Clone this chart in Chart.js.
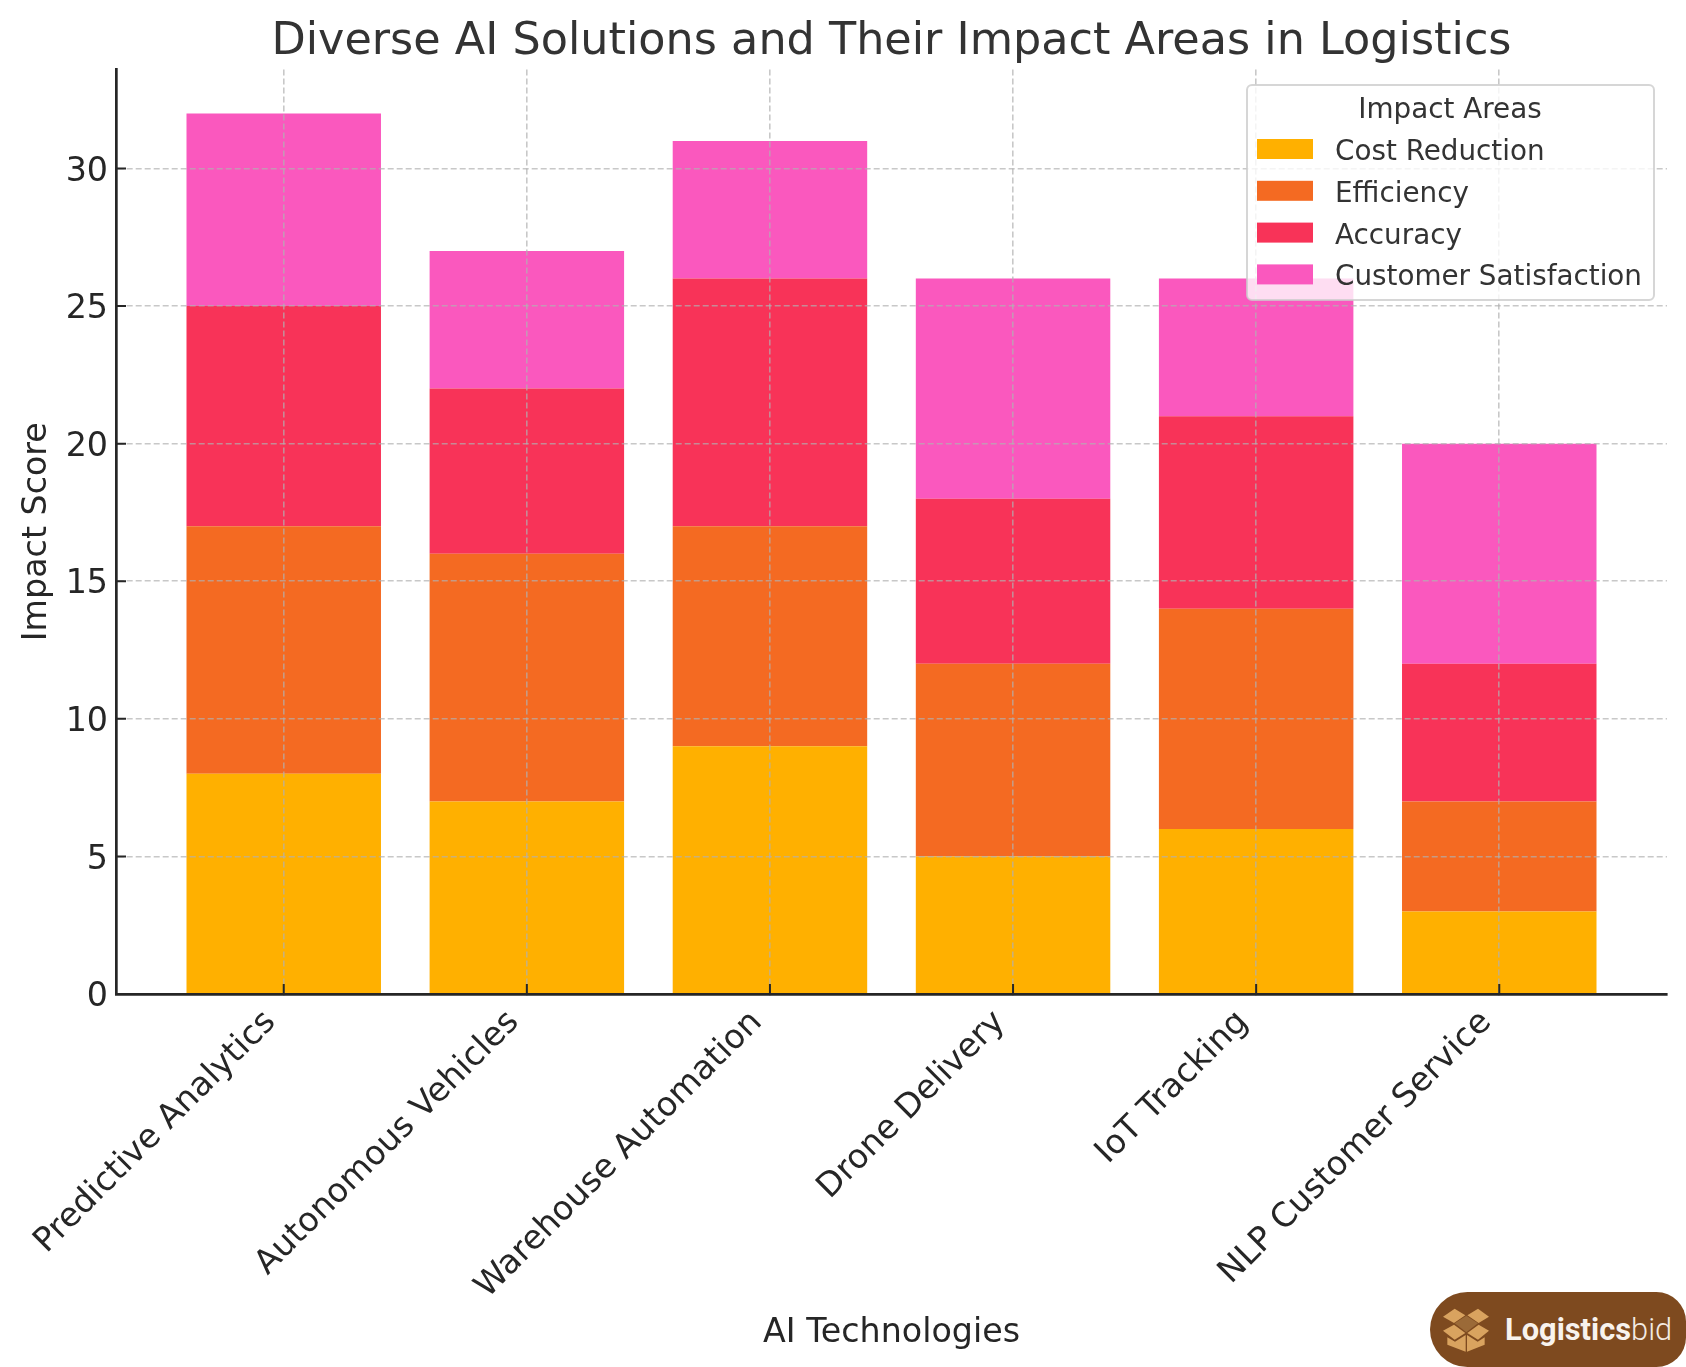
<!DOCTYPE html>
<html>
<head>
<meta charset="utf-8">
<script src="https://cdn.jsdelivr.net/npm/chart.js@4"></script>
<style>
  html, body { margin: 0; padding: 0; background: #fff; }
  #wrap { position: relative; width: 1686px; height: 1367px; overflow: hidden; }
  canvas { display: block; }
  #badge {
    position: absolute; left: 1430px; top: 1292px; width: 256px; height: 75px;
    background: #7e4a1f; border-radius: 38px 30px 30px 38px;
    display: flex; align-items: center; color: #fff;
    font-family: Roboto, sans-serif; font-size: 30.8px;
  }
  #badge svg { margin-left: 13px; margin-right: 16px; }
  #badge b { font-weight: 700; color: #f8f3ee; }
  #badge span { font-weight: 300; color: #f3eae2; }
</style>
</head>
<body>
<div id="wrap">
  <canvas id="c" width="1686" height="1367"></canvas>
  <div id="badge">
    <svg width="46" height="44" viewBox="130 113 138 130">
      <path d="M200 135 L235 158 L200 185 L165 158 Z" fill="#9b6a38"/>
      <path d="M130 138 L165 114 L197 134 L163 157 Z M268 138 L235 114 L203 134 L237 157 Z" fill="#d9a35f"/>
      <path d="M130 180 L163 162 L197 187 L165 207 Z M268 180 L237 162 L203 187 L235 207 Z" fill="#d9a35f"/>
      <path d="M143 200 L166 213 L198 193 L198 243 L143 222 Z M255 200 L234 213 L202 193 L202 243 L255 222 Z" fill="#d9a35f"/>
    </svg>
    <b>Logistics</b><span>bid</span>
  </div>
</div>
<script>
const technologies = ["Predictive Analytics", "Autonomous Vehicles", "Warehouse Automation", "Drone Delivery", "IoT Tracking", "NLP Customer Service"];
const costReduction = [8, 7, 9, 5, 6, 3];
const efficiency = [9, 9, 8, 7, 8, 4];
const accuracy = [8, 6, 9, 6, 7, 5];
const customerSatisfaction = [7, 5, 5, 8, 5, 8];
const yTicks = [0, 5, 10, 15, 20, 25, 30];
const seriesNames = ["Cost Reduction", "Efficiency", "Accuracy", "Customer Satisfaction"];
const seriesColors = ["#ffb000", "#f46a22", "#f83358", "#fa58be"];

const FONT = "'DejaVu Sans'";
const INK = "#262626";
const GRID = "rgba(176,176,176,0.7)";

const seriesValues = [costReduction, efficiency, accuracy, customerSatisfaction];
const datasets = seriesNames.map((name, s) => ({
  label: name,
  data: seriesValues[s].map((v, i) => ({ x: i, y: v })),
  backgroundColor: seriesColors[s],
  borderWidth: 0,
  barPercentage: 0.8,
  categoryPercentage: 1,
  stack: "impact",
}));

// matplotlib style inward ticks on both axes
const inwardTicks = {
  id: "inwardTicks",
  afterDraw(chart) {
    const { ctx, scales: { x, y }, chartArea: a } = chart;
    ctx.save();
    ctx.strokeStyle = INK;
    ctx.lineWidth = 2;
    ctx.beginPath();
    x.ticks.forEach((t) => {
      const px = x.getPixelForValue(t.value);
      ctx.moveTo(px, a.bottom);
      ctx.lineTo(px, a.bottom - 10);
    });
    y.ticks.forEach((t) => {
      const py = y.getPixelForValue(t.value);
      ctx.moveTo(a.left, py);
      ctx.lineTo(a.left + 10, py);
    });
    ctx.stroke();
    ctx.restore();
  },
};

// legend box has to sit over the bars and the grid, with a see-through fill
const legendBox = {
  id: "legendBox",
  afterDraw(chart) {
    const { ctx } = chart;
    const bx = 1247, by = 85, bw = 407, bh = 215;
    ctx.save();
    ctx.beginPath();
    ctx.roundRect(bx, by, bw, bh, 5);
    ctx.fillStyle = "rgba(255,255,255,0.8)";
    ctx.fill();
    ctx.strokeStyle = "rgba(204,204,204,0.8)";
    ctx.lineWidth = 2;
    ctx.stroke();
    ctx.fillStyle = "#333";
    ctx.font = "27.8px " + FONT;
    ctx.textBaseline = "alphabetic";
    ctx.textAlign = "center";
    ctx.fillText("Impact Areas", 1450, 118);
    ctx.textAlign = "left";
    chart.data.datasets.forEach((d, i) => {
      ctx.fillStyle = d.backgroundColor;
      ctx.fillRect(1257, 139 + i * 41.8, 56, 20);
      ctx.fillStyle = "#333";
      ctx.fillText(d.label, 1335, 160 + i * 41.8);
    });
    ctx.restore();
  },
};

new Chart(document.getElementById("c"), {
  type: "bar",
  data: { datasets },
  plugins: [inwardTicks, legendBox],
  options: {
    responsive: false,
    animation: false,
    layout: { padding: { right: 19, left: 0, top: 0, bottom: 0 } },
    plugins: {
      legend: { display: false },
      tooltip: { enabled: false },
      title: {
        display: true,
        text: "Diverse AI Solutions and Their Impact Areas in Logistics",
        fullSize: false,
        color: "#333",
        font: { family: FONT, size: 44.5, weight: "normal" },
        padding: { top: 16, bottom: 0 },
      },
    },
    scales: {
      x: {
        type: "linear",
        position: "bottom",
        offset: false,
        min: -0.69,
        max: 5.69,
        stacked: true,
        afterFit(s) { s.height = 373; },
        afterBuildTicks(s) { s.ticks = technologies.map((_, i) => ({ value: i })); },
        grid: { offset: false, color: GRID, lineWidth: 1.6, z: 1, tickLength: 0 },
        border: { display: true, color: INK, width: 2.7, dash: [6, 3], z: 2 },
        ticks: {
          color: INK,
          font: { family: FONT, size: 33.3 },
          minRotation: 45,
          maxRotation: 45,
          padding: 9,
          labelOffset: -13,
          autoSkip: false,
          callback: (v) => technologies[v],
        },
        title: { display: true, text: "AI Technologies", color: INK, font: { family: FONT, size: 33.3 }, padding: { top: 0, bottom: 14 } },
      },
      y: {
        min: 0,
        max: 33.6,
        stacked: true,
        afterFit(s) { s.width = 116; },
        afterBuildTicks(s) { s.ticks = yTicks.map((v) => ({ value: v })); },
        grid: { color: GRID, lineWidth: 1.6, z: 1, tickLength: 0 },
        border: { display: true, color: INK, width: 2.7, dash: [6, 3], z: 2 },
        ticks: { color: INK, font: { family: FONT, size: 33.3 }, padding: 8, labelOffset: 3.5 },
        title: { display: true, text: "Impact Score", color: INK, font: { family: FONT, size: 33.3 }, padding: { top: 17, bottom: 0 } },
      },
    },
  },
});
</script>
</body>
</html>
